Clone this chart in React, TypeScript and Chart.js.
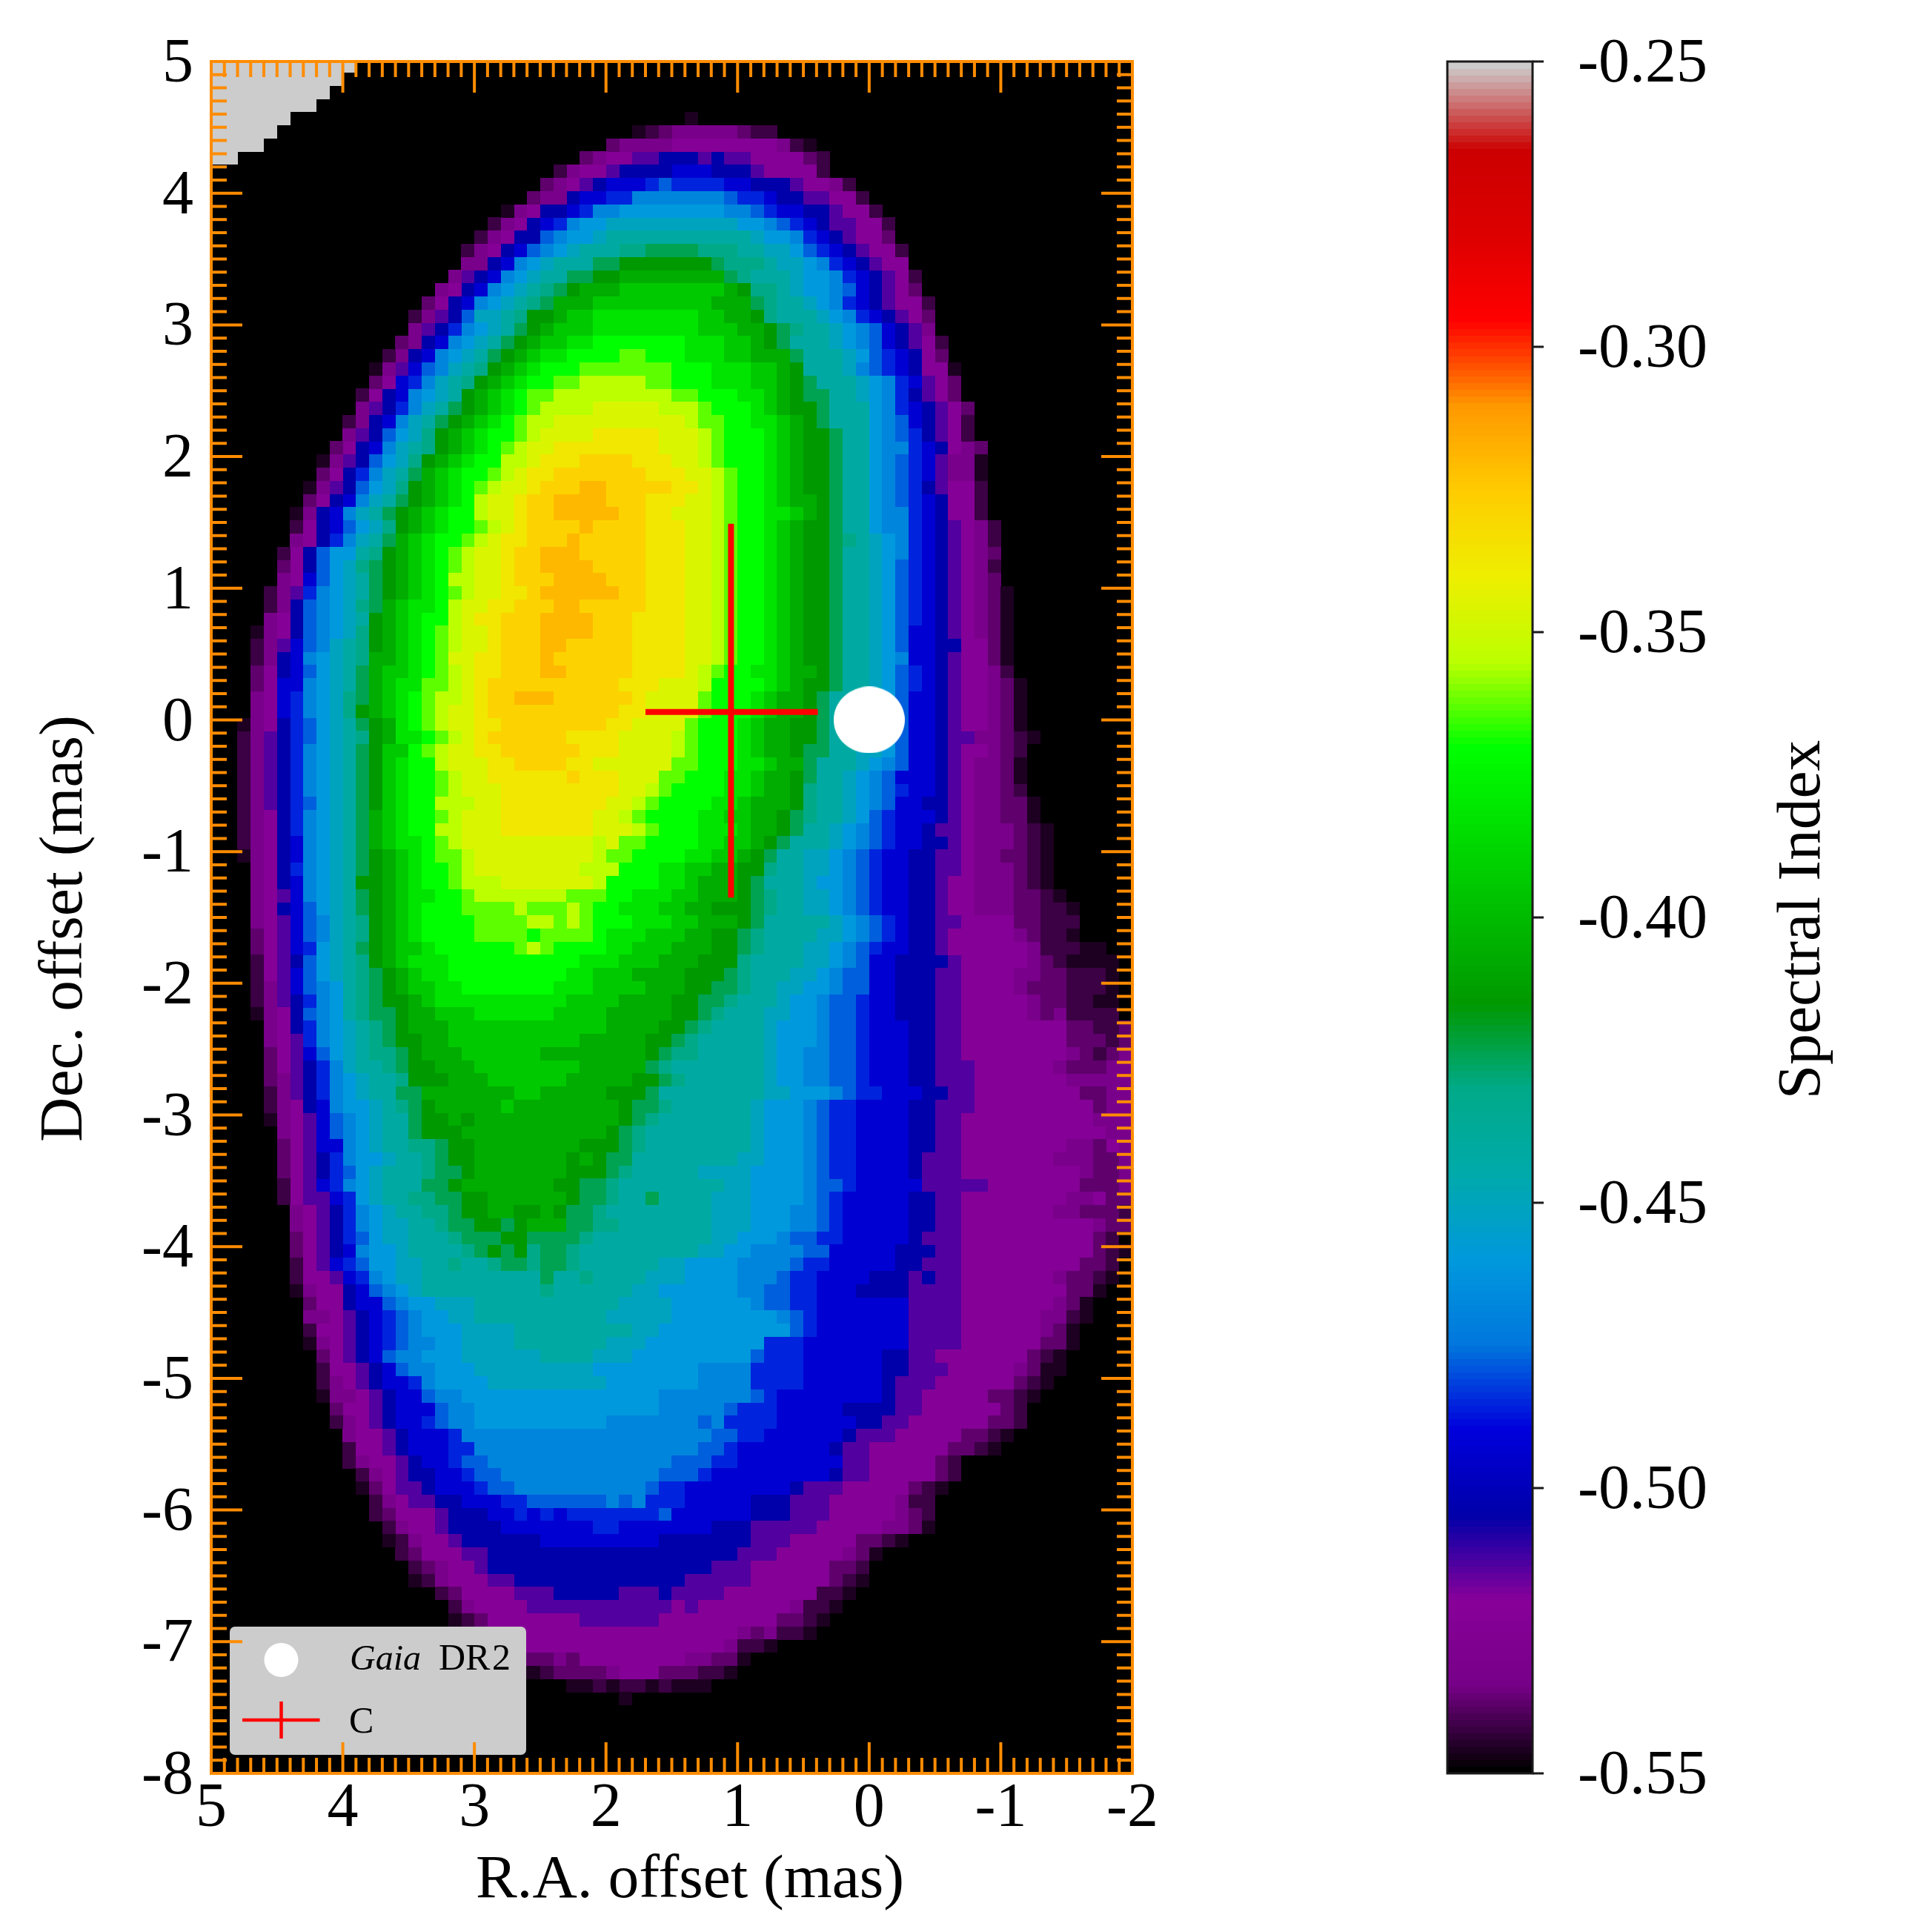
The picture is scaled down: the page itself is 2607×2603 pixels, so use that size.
import React, { useEffect, useRef } from "react";
import { Chart, registerables } from "chart.js";

Chart.register(...registerables);

// Each row of the spectral-index map: [first column, level codes, ...]. Columns and rows are 0.1 mas wide.
const MAP_ROWS: (number | string)[][] = [
  [0, "zzzzzzzzzzz"],
  [0, "zzzzzzzzzz"],
  [0, "zzzzzzzzz"],
  [0, "zzzzzzzz"],
  [0, "zzzzzz", 36, "1"],
  [0, "zzzzz", 32, "12344444322"],
  [0, "zzzz", 30, "3444455555555421"],
  [0, "zz", 28, "3455667776766555532"],
  [26, "245567777888777655552"],
  [25, "345678889a99998877765542"],
  [24, "34478899bbbbbbba9987766552"],
  [22, "1457789bbccccccccbba988776552"],
  [21, "245789bccdddddddddd" + "ccba98766552"],
  [20, "24577abccdeeeeeeeeeeedccb9876553"],
  [19, "24578abcdeeeffggggfffeeddca9876552"],
  [19, "4478bcdeeegghhhhhhhgfffeddcb987655"],
  [18, "4678bcdeegghhiiiiiiiigfeeedccb987652"],
  [17, "4578bcdefghiii" + "jjjjjjjj" + "ihffedccba87653"],
  [16, "3578bcdefgiii" + "jjjjjjjjj" + "iii" + "gfeedcb9876552"],
  [15, "2467addefhhijj" + "kkkkkkkk" + "jjiihfeeedcb987653"],
  [15, "4679bcdeghijjj" + "kkkkkkkk" + "jjj" + "iih" + "gfeedcba8764"],
  [14, "3478bcdeghijjkk" + "lllllll" + "kkkjjihg" + "eeedcba87652"],
  [13, "2478bcdeghijkkll" + "ll" + "mm" + "lll" + "kkk" + "jj" + "iii" + "g" + "eee" + "dca98753"],
  [12, "1468abdefhijklll" + "mmmmmmm" + "lll" + "kkk" + "jj" + "i" + "h" + "eee" + "dba987551"],
  [12, "3589bdefhijkllm" + "mnnnnnm" + "m" + "lll" + "kkk" + "jj" + "ihg" + "eee" + "dcb98653"],
  [11, "2578bcdehijklmmnn" + "nnnnnn" + "nmm" + "lll" + "kk" + "jihgg" + "ee" + "dcb97653"],
  [11, "4679bdeghijklmnn" + "nnooooonn" + "nm" + "lll" + "kjihhg" + "eee" + "cb987653"],
  [10, "2478bdeghijklmnno" + "ooooooooo" + "n" + "mm" + "ll" + "kkjihg" + "eee" + "cba87652"],
  [10, "467acdfhijkllmnoo" + "oopppppooo" + "nm" + "lll" + "kjihhg" + "ee" + "cba97652"],
  [9, "3578bdefhijklmnoop" + "ppppp" + "ppooo" + "nm" + "lll" + "kjihhg" + "ee" + "cbb987543"],
  [8, "1467acdfhijkllnnopp" + "pqqqqp" + "ppoo" + "nm" + "lll" + "kjihhg" + "ee" + "cba986441"],
  [8, "3579bdegijkllmnoppq" + "qq" + "qqqq" + "pppo" + "onm" + "ll" + "kjihhg" + "ee" + "cba986441"],
  [7, "1467acdfhijklmnoopqq" + "qrr" + "qqqqq" + "pp" + "onm" + "ll" + "kjihhg" + "ee" + "cba976552"],
  [7, "3578bdeghijklnoopqq" + "rrrr" + "qqq" + "ppp" + "oo" + "nm" + "ll" + "kjiihg" + "ee" + "cba987552"],
  [6, "1478bdeghijkllnoopqq" + "rrrrr" + "qq" + "pp" + "ooo" + "nm" + "ll" + "kkjihg" + "ee" + "cbb987552"],
  [6, "2578acdfhijkllmnopqqqqrqqqq" + "pppoonmllkjihhg" + "eecbb9876542"],
  [6, "4579bdegijkllmnoppqqqrqqqqq" + "pppoonmllkjihhg" + "fedcb9876542"],
  [5, "257accefhijklmnoopqqrrrqqqqq" + "pppoonmllkjihhg" + "eedcb9876543"],
  [5, "357acdfghijklmnoopqqrrrrqqqq" + "pppoonmllkjihhg" + "eedca9876542"],
  [5, "458acdeghijklnnoopqqqrrrrqqq" + "pppoonmllkjihhg" + "eedca9876543"],
  [4, "2469bcdeghijklmnooppqrrrrrrqq" + "pppoonmllkjihhg" + "eedca98765431"],
  [4, "247abcdfgijkklnooppqqqrrqqqqq" + "pppoonmllkjihhg" + "eedca98765431"],
  [4, "457abcdehijkllnoppqqqrrrrqqqp" + "pppoonmllkjihhg" + "eedca98765431"],
  [3, "1457abcdfhijklmnoopqqqrrrrqqqp" + "pppoonmllkjihhg" + "eedca88765431"],
  [3, "2468abdefhijklmnoopqqqrrqqqqqp" + "pppoonmllkjihhg" + "eedca88775531"],
  [3, "2478bcdefiijklmooppqqqrqqqqqqp" + "pppoonmllkjihhg" + "eedcb88765531"],
  [3, "3578acdegijjklmnoppqqqrrqqqqqp" + "ppponmllkkjiihg" + "eedca98765542"],
  [3, "3588bcdegijkkmmnopqqqqqqqqq" + "q" + "ppp" + "ooo" + "n" + "llll" + "kjihhg" + "eedca987655431"],
  [3, "4589bcdfgijklmnnopqq" + "rrr" + "qqqqqq" + "p" + "oooo" + "m" + "lll" + "kjiihg" + "eeddca887655431"],
  [3, "4589bcdfhijklmnoop" + "qqqqqqqqqq" + "pp" + "oooo" + "m" + "lll" + "kjiihg" + "eeddca887655431"],
  [2, "14579acdeghiklmnoopp" + "qqqqqqqq" + "pp" + "oooo" + "m" + "lll" + "kjiihhg" + "eeddca887655431"],
  [2, "24679acdefhikklmnop" + "qqqqqq" + "pppp" + "oooo" + "nm" + "lll" + "kjiihhg" + "eeddca8876644321"],
  [2, "24679bcdeghjjlmnoopp" + "qqqqqq" + "ppp" + "oooo" + "nm" + "lll" + "kjiihgg" + "eeddca887655432"],
  [2, "24679bcdeghjkllnooo" + "pp" + "qqqq" + "pp" + "oooooo" + "mm" + "lll" + "kkjiig" + "eee" + "dcba887654431"],
  [2, "24679bcdeghjkllmnoo" + "pppppp" + "q" + "ppp" + "ooo" + "mm" + "lll" + "kkjiihg" + "ee" + "dcba8887654431"],
  [2, "24679bcdeghjkllmnooo" + "ppppppppp" + "oo" + "nm" + "llll" + "kkjiihf" + "ee" + "dcba9887654432"],
  [2, "24679acdeghjkllnnnoo" + "pppppppp" + "oo" + "nm" + "llll" + "kkjiiihf" + "ee" + "dcba88776544331"],
  [2, "24579bcdegijkllmnooo" + "ppppppp" + "oo" + "nm" + "llll" + "kkjjiihgf" + "ee" + "dca988876544331"],
  [2, "24579bcdegijkllnnoo" + "o" + "ppppppp" + "ooo" + "nm" + "lll" + "kkk" + "jiihg" + "ee" + "dcba9887665444321"],
  [2, "24578bcdegijkklmno" + "ooooooooo" + "no" + "mm" + "llll" + "kkjjihg" + "eee" + "dcba9887765444321"],
  [2, "14578bcdeghijklmmno" + "oooooooo" + "nmm" + "llll" + "kkjjihg" + "ee" + "ddcba98877665443321"],
  [3, "4579bcdeghijkllmno" + "ooooooo" + "nnn" + "lll" + "kkjjiihhf" + "ee" + "ddcba98877665444321"],
  [3, "4578bcdehhijkllmnnn" + "ooooooo" + "n" + "llll" + "kkjiiihg" + "eee" + "dccba98877655444321"],
  [3, "4568bcdeghijkkllmnn" + "nnnnn" + "mmm" + "ll" + "kkk" + "jj" + "iii" + "hgf" + "ee" + "ddcba988776554443321"],
  [3, "4578acdeghijklllmm" + "mmnmmmnm" + "ll" + "kkk" + "jj" + "ii" + "hhh" + "gf" + "ee" + "ddcba9887765544433221"],
  [3, "4568abdefhijkllll" + "mmmm" + "nnmnm" + "lll" + "kkk" + "jj" + "iii" + "hg" + "eeeee" + "dcba98776655553" + "3222"],
  [3, "3568abdefhijkllllmmmmlmmmmlkkkjjjiihhgfeeeeddcba98776" + "55555" + "43221"],
  [3, "35689cdeghijjk" + "llllll" + "mnm" + "llll" + "kk" + "jjj" + "iii" + "hhgfeeeddcba988776" + "555555" + "422211"],
  [3, "2567acdefhijkkk" + "llllllllll" + "kkkjjjiiihhhf" + "eeee" + "ddcba88" + "7777" + "6" + "55555" + "432" + "1111"],
  [3, "2568acdefghijkk" + "lllllllll" + "kk" + "jjj" + "iiii" + "hhh" + "g" + "f" + "eee" + "dd" + "c" + "b" + "aa" + "88" + "777" + "66" + "5555" + "44" + "33" + "222" + "1"],
  [3, "2468abcefghijjkk" + "lllllll" + "kkk" + "jjjj" + "iii" + "hhggfeeddccbaa88777665555" + "4333" + "2221"],
  [3, "24679bcefghhij" + "kkkkkkkkkk" + "jjjj" + "iiii" + "hhggf" + "eee" + "dccbaa98877766555554332211"],
  [3, "1457abcefgghii" + "jjj" + "kkkkkk" + "jjjj" + "iiiii" + "hhgf" + "eee" + "ddccbaa98877766555554342222"],
  [4, "4579bcdefgh" + "iii" + "jjjjjjjjjjjj" + "iiii" + "hhgf" + "eeee" + "dcccbaa9" + "888" + "77" + "66" + "55555555" + "33223"],
  [4, "4569bcdefghhii" + "jjjjjjjjjj" + "iiiii" + "hhgf" + "eeeee" + "dcccbaa9" + "888" + "77" + "66" + "55555555" + "33323"],
  [4, "3568acdeffgh" + "iii" + "jjjjjj" + "iiiiiiii" + "hgff" + "eeeee" + "dccbbaa9" + "888" + "77" + "66" + "55555555" + "43234"],
  [4, "35679bdeefghh" + "iii" + "jjjjjjjj" + "iiiii" + "gf" + "eeeeeee" + "dccbbaa9" + "888" + "77" + "666" + "555555" + "4" + "333" + "44"],
  [4, "34679bcdeef" + "hhh" + "iii" + "jjjjjj" + "iiiii" + "hhgf" + "eeeeee" + "dccbbaa9" + "888" + "77" + "666" + "5555555" + "44444"],
  [4, "24679bcdeegg" + "iiiiiii" + "jj" + "iiiii" + "hhhg" + "eeeeeeee" + "ddcccba99" + "888" + "77" + "66" + "55555555" + "3344"],
  [4, "24578bccdefgh" + "iiiii" + "j" + "iiiiiiii" + "hggf" + "eeeeee" + "dcccba99" + "8888" + "77" + "666" + "555555555" + "344"],
  [4, "14568abcdeeghhih" + "iiiiiiiiiii" + "hgf" + "eeeeeee" + "dcccba99" + "8888" + "77" + "66" + "5555555555" + "444"],
  [5, "4568abcdeeg" + "hhh" + "iiiiiiiiiii" + "hgf" + "eeeeeeee" + "dcccba99" + "8888" + "77" + "66" + "55555555555" + "44"],
  [5, "35688bcdeeffghh" + "iiiiiiii" + "hhh" + "gf" + "eeeeeeee" + "dcccba99" + "8888" + "77" + "66" + "55555555" + "44354"],
  [5, "35679bccdeefghh" + "iiiiiii" + "hihgg" + "eeeeeeee" + "ddcccba99" + "8888" + "7666" + "5555555" + "444334"],
  [5, "35679acdeeefggh" + "iiiiiii" + "hhhgf" + "eeeee" + "dddd" + "cccc" + "ba99" + "8888" + "7666" + "555555555" + "4334"],
  [5, "25689bcdeeeggh" + "iiiiiii" + "hhggf" + "eeeeeeee" + "dd" + "cccc" + "baa9" + "88888" + "66666" + "5555555" + "3334"],
  [5, "256689cdeeffgghh" + "iiiiii" + "hggfeeg" + "eeee" + "ddd" + "cccc" + "ba9" + "88888" + "77" + "66" + "55555555" + "44533"],
  [6, "45679bcdeeffghhiihhihggf" + "eeeeeeee" + "ddd" + "ccc" + "bba9" + "88888" + "77" + "66" + "5555555" + "44" + "333" + "2"],
  [6, "45679bcddeefgghhgh" + "iii" + "ggff" + "eeeeeee" + "ddd" + "ccc" + "bba9" + "88888" + "77" + "66" + "5555555555" + "433"],
  [6, "35679acdd" + "eee" + "f" + "ggg" + "hh" + "gggg" + "f" + "eeeeeeeee" + "dd" + "ccc" + "baa99" + "88888" + "7666" + "5555555555" + "32"],
  [6, "35678bccd" + "eeee" + "fghghfggf" + "eeeeeeeee" + "ddcc" + "bbbb" + "aa" + "88888" + "777" + "66" + "5555555555" + "321"],
  [6, "25689accdd" + "eefeefggfggf" + "eeeeee" + "dd" + "cccc" + "bbbb" + "a99" + "88888" + "77" + "666" + "555555555" + "332"],
  [6, "255689bcdd" + "eeeeeeeee" + "geef" + "eeee" + "ddd" + "cccc" + "bbb" + "a99" + "8888" + "777" + "6766" + "5555555" + "43321"],
  [6, "145578abcd" + "eeeeeeeee" + "f" + "eeeeee" + "dd" + "cccccc" + "bbaa99" + "888" + "7777" + "6666" + "55555555" + "331"],
  [7, "355788abcc" + "ddd" + "eeeeeeeeeee" + "dddd" + "cccccc" + "baa99" + "8888888" + "6666" + "5555555" + "431"],
  [7, "4456789abccdd" + "eeeeeeeeee" + "ddddd" + "cccccccc" + "ba9" + "8888888" + "6666" + "555555" + "4421"],
  [7, "2556789abcccdddd" + "eeeeeeeee" + "dd" + "cccccccccc" + "a9" + "8888888" + "6666" + "555555" + "431"],
  [7, "1456789abbccdddd" + "eeeeeee" + "ddd" + "ccccccccc" + "999" + "88888888" + "6666" + "555555" + "331"],
  [8, "35678abbccc" + "dddddd" + "eeee" + "ddd" + "ccccccccc" + "a999" + "888888" + "77" + "66" + "5555555" + "321"],
  [8, "255678abb" + "ccc" + "ddddddddd" + "cccccccc" + "bbbb" + "9999" + "888888" + "77" + "666" + "55555" + "4311"],
  [8, "24567889b" + "cccc" + "ddddddddd" + "ccccccc" + "bbbb" + "9999" + "888888" + "7" + "666" + "555555" + "321"],
  [8, "14456788abb" + "ccccccccccccccc" + "bbbbbbb" + "a9" + "88888888" + "766" + "55555" + "3321"],
  [9, "35567888abb" + "cccccccccccccc" + "bbbbb" + "a999" + "88888" + "7777" + "66" + "555555" + "32"],
  [9, "24567889abb" + "cccccccccc" + "bbbbbbb" + "ab" + "9999" + "888888" + "77" + "66" + "555555" + "332"],
  [10, "455678889" + "bbbbbbbbbbbbbbbbbbb" + "aa99" + "888888" + "7" + "666" + "55555" + "3321"],
  [10, "2556788899" + "bbbbbbbbbbbbbbbbb" + "aa9" + "8888888" + "766" + "555555" + "3321"],
  [10, "245567889aa" + "bbbbbbbbbbbbbb" + "aaa" + "99" + "88888888" + "66" + "55555" + "32"],
  [11, "245677889aa" + "bbbbbbbbbbbb" + "aaa" + "9" + "888888888" + "766" + "55555" + "32"],
  [11, "1356678889aa" + "bbbbbbbbbb" + "a99" + "88888888" + "7" + "666" + "55555" + "321"],
  [12, "245667788899" + "aaaaaa" + "bab" + "999" + "88888" + "777" + "666" + "55555" + "422"],
  [12, "23555" + "6" + "777" + "88" + "9898" + "9999999" + "a" + "888888" + "777" + "666" + "55555" + "432"],
  [13, "24556" + "7777" + "8888888" + "99" + "8888888" + "777" + "66666" + "55555" + "4431"],
  [13, "124556" + "777777" + "888888888" + "7777777" + "666" + "55555" + "3321"],
  [14, "23555" + "66" + "7777777777777777777" + "666" + "55555" + "431"],
  [15, "234556" + "77777777777777777" + "666" + "555555" + "332"],
  [15, "124555" + "66" + "7777777777777" + "66666" + "555555" + "321"],
  [17, "23" + "5555" + "666" + "77777" + "666" + "7" + "6666" + "5555555" + "221"],
  [18, "24" + "5555" + "66666666666" + "56" + "5555555" + "4221"],
  [18, "123" + "5555555" + "666666" + "555555555" + "3321"],
  [19, "23" + "5555555555555555555" + "434221"],
  [21, "34" + "5555555555555555" + "4221"],
  [22, "233343" + "55555555" + "44331"],
  [23, "11233334" + "555" + "333221"],
  [27, "11212212111"],
  [31, "1"],
];

// Spectral index that each level code in MAP_ROWS stands for.
const LEVEL_CODES = "0123456789abcdefghijklmnopqrz";
const LEVEL_VALUES = [
  -0.55, -0.5464, -0.5425, -0.538, -0.5335, -0.523, -0.514, -0.505, -0.493, -0.4855,
  -0.478, -0.469, -0.46, -0.451, -0.442, -0.43, -0.424, -0.415, -0.406, -0.394,
  -0.382, -0.37, -0.3625, -0.355, -0.346, -0.337, -0.328, -0.319, -0.25,
];

const INDEX_MIN = -0.55;
const INDEX_MAX = -0.25;
const X_TICKS = [5, 4, 3, 2, 1, 0, -1, -2];
const Y_TICKS = [5, 4, 3, 2, 1, 0, -1, -2, -3, -4, -5, -6, -7, -8];
const BAR_TICKS = [-0.25, -0.3, -0.35, -0.4, -0.45, -0.5, -0.55];

const GAIA_POINT = { x: 0, y: 0 };
const C_CROSS_RA = [1.7, 1.05, 0.39];
const C_CROSS_DEC = [1.49, 0.06, -1.35];

// nipy_spectral colour map anchors: [position, r, g, b]
const COLOR_STOPS = [
  [0, 0, 0, 0], [0.05, 0.4667, 0, 0.5333], [0.1, 0.5333, 0, 0.6], [0.15, 0, 0, 0.6667],
  [0.2, 0, 0, 0.8667], [0.25, 0, 0.4667, 0.8667], [0.3, 0, 0.6, 0.8667], [0.35, 0, 0.6667, 0.6667],
  [0.4, 0, 0.6667, 0.5333], [0.45, 0, 0.6, 0], [0.5, 0, 0.7333, 0], [0.55, 0, 0.8667, 0],
  [0.6, 0, 1, 0], [0.65, 0.7333, 1, 0], [0.7, 0.9333, 0.9333, 0], [0.75, 1, 0.8, 0],
  [0.8, 1, 0.6, 0], [0.85, 1, 0, 0], [0.9, 0.8667, 0, 0], [0.95, 0.8, 0, 0], [1, 0.8, 0.8, 0.8],
];

const SERIF = "'Liberation Serif', 'Times New Roman', serif";
const ORANGE = "#ff8c00";
const FONT_SIZE = 84;
const TITLE_SIZE = 83.5;
const BAR_CANVAS_LIFT = 20;

function colorFor(value: number): string {
  const f = Math.min(1, Math.max(0, (value - INDEX_MIN) / (INDEX_MAX - INDEX_MIN)));
  for (let i = 1; i < COLOR_STOPS.length; i++) {
    const a = COLOR_STOPS[i - 1];
    const b = COLOR_STOPS[i];
    if (f <= b[0]) {
      const t = (f - a[0]) / (b[0] - a[0]);
      const c = [1, 2, 3].map((k) => Math.round(255 * (a[k] + (b[k] - a[k]) * t)));
      return `rgb(${c[0]},${c[1]},${c[2]})`;
    }
  }
  return "rgb(204,204,204)";
}

function cellStyle(w: number, h: number, color: string): HTMLCanvasElement {
  const c = document.createElement("canvas");
  c.width = w;
  c.height = h;
  const g = c.getContext("2d")!;
  g.fillStyle = color;
  g.fillRect(0, 0, w, h);
  return c;
}

function ellipseStyle(rx: number, ry: number, color: string): HTMLCanvasElement {
  const c = document.createElement("canvas");
  c.width = rx * 2;
  c.height = ry * 2;
  const g = c.getContext("2d")!;
  g.fillStyle = color;
  g.beginPath();
  g.ellipse(rx, ry, rx, ry, 0, 0, Math.PI * 2);
  g.fill();
  return c;
}

function buildHeatDatasets() {
  const grid: number[][] = [];
  for (let r = 0; r <= 130; r++) {
    const row = new Array(70).fill(0);
    const spec = MAP_ROWS[r] || [];
    for (let k = 0; k + 1 < spec.length; k += 2) {
      const start = spec[k] as number;
      const text = spec[k + 1] as string;
      for (let i = 0; i < text.length && start + i < 70; i++) {
        row[start + i] = LEVEL_CODES.indexOf(text[i]);
      }
    }
    grid.push(row);
  }
  return LEVEL_CODES.split("").map((code, level) => {
    const data: { x: number; y: number }[] = [];
    grid.forEach((row, r) =>
      row.forEach((l, c) => {
        if (l === level) data.push({ x: 5 - (c + 0.5) * 0.1, y: 4.966 - 0.1 * r });
      })
    );
    return {
      type: "scatter" as const,
      label: `index ${LEVEL_VALUES[level]}`,
      data,
      pointStyle: cellStyle(18, 18, colorFor(LEVEL_VALUES[level])),
      pointRadius: 10,
      pointHoverRadius: 10,
      showLine: false,
      clip: 0,
      order: level === 0 ? 100 : 50,
    };
  });
}

// The reference sets its vertical-axis numbers a little below the tick centre.
function nudgeYLabels(chart: any, dy: number) {
  if (chart.$nudged) return;
  chart.$nudged = true;
  chart.scales.y.getLabelItems(chart.chartArea).forEach((item: any) => {
    const t = item.options.translation;
    item.options.translation = [t[0], t[1] + dy];
  });
}

const mainOverlay = {
  id: "mainOverlay",
  beforeDraw(chart: any) {
    nudgeYLabels(chart, 5);
  },
  beforeDatasetsDraw(chart: any) {
    const { ctx, chartArea: a } = chart;
    ctx.save();
    ctx.fillStyle = "#000";
    ctx.fillRect(a.left, a.top, a.right - a.left, a.bottom - a.top);
    ctx.restore();
  },
  afterDatasetsDraw(chart: any) {
    const { ctx, chartArea: a, scales } = chart;
    ctx.save();
    // legend
    ctx.fillStyle = "#cccccc";
    ctx.beginPath();
    ctx.roundRect(310, 2195, 400, 173, 7);
    ctx.fill();
    ctx.fillStyle = "#fff";
    ctx.beginPath();
    ctx.ellipse(379.5, 2240, 23, 23, 0, 0, Math.PI * 2);
    ctx.fill();
    ctx.strokeStyle = "#ff0000";
    ctx.lineWidth = 4.5;
    ctx.beginPath();
    ctx.moveTo(327, 2321);
    ctx.lineTo(431.5, 2321);
    ctx.moveTo(379.5, 2296);
    ctx.lineTo(379.5, 2346);
    ctx.stroke();
    ctx.fillStyle = "#000";
    ctx.textAlign = "left";
    ctx.textBaseline = "alphabetic";
    ctx.font = `italic 48px ${SERIF}`;
    ctx.fillText("Gaia", 472, 2253);
    ctx.font = `50px ${SERIF}`;
    ctx.fillText("DR", 592, 2253);
    ctx.fillText("2", 664, 2253);
    ctx.fillText("C", 471, 2338);

    // inward ticks on all four sides
    ctx.strokeStyle = ORANGE;
    ctx.lineWidth = 4;
    ctx.beginPath();
    for (let i = 0; i <= 70; i++) {
      const v = -2 + i / 10;
      const px = scales.x.getPixelForValue(v);
      const len = i % 10 === 0 ? 42 : 21;
      ctx.moveTo(px, a.top);
      ctx.lineTo(px, a.top + len);
      ctx.moveTo(px, a.bottom);
      ctx.lineTo(px, a.bottom - len);
    }
    for (let i = 0; i <= 130; i++) {
      const v = -8 + i / 10;
      const py = scales.y.getPixelForValue(v);
      const len = i % 10 === 0 ? 42 : 21;
      ctx.moveTo(a.left, py);
      ctx.lineTo(a.left + len, py);
      ctx.moveTo(a.right, py);
      ctx.lineTo(a.right - len, py);
    }
    ctx.stroke();
    ctx.strokeRect(a.left, a.top, a.right - a.left, a.bottom - a.top);

    // axis titles
    ctx.fillStyle = "#000";
    ctx.font = `${TITLE_SIZE}px ${SERIF}`;
    ctx.textAlign = "center";
    ctx.fillText("R.A. offset (mas)", 931, 2560);
    ctx.translate(110, 1253);
    ctx.rotate(-Math.PI / 2);
    ctx.fillText("Dec. offset (mas)", 0, 0);
    ctx.restore();
  },
};

const barOverlay = {
  id: "barOverlay",
  beforeDraw(chart: any) {
    nudgeYLabels(chart, 5);
  },
  afterDatasetsDraw(chart: any) {
    const { ctx, chartArea: a, scales } = chart;
    ctx.save();
    ctx.strokeStyle = "#1a1a1a";
    ctx.lineWidth = 3;
    ctx.strokeRect(a.left, a.top, a.right - a.left, a.bottom - a.top);
    ctx.lineWidth = 3;
    ctx.beginPath();
    BAR_TICKS.forEach((v) => {
      const py = scales.y.getPixelForValue(v);
      ctx.moveTo(a.right, py);
      ctx.lineTo(a.right + 15, py);
    });
    ctx.stroke();
    ctx.fillStyle = "#000";
    ctx.font = `${TITLE_SIZE}px ${SERIF}`;
    ctx.textAlign = "center";
    ctx.textBaseline = "alphabetic";
    ctx.translate(655, 1241 + BAR_CANVAS_LIFT);
    ctx.rotate(-Math.PI / 2);
    ctx.fillText("Spectral Index", 0, 0);
    ctx.restore();
  },
};

export default function App() {
  const mainRef = useRef<HTMLCanvasElement>(null);
  const barRef = useRef<HTMLCanvasElement>(null);

  useEffect(() => {
    const tickFont = { family: SERIF, size: FONT_SIZE, lineHeight: 1 };
    const main = new Chart(mainRef.current!, {
      type: "scatter",
      data: {
        datasets: [
          {
            label: "C",
            data: [
              { x: C_CROSS_RA[0], y: C_CROSS_DEC[1] },
              { x: C_CROSS_RA[2], y: C_CROSS_DEC[1] },
            ],
            showLine: true,
            borderColor: "#ff0000",
            borderWidth: 8,
            pointRadius: 0,
            clip: 0,
            order: 0,
          },
          {
            label: "C (Dec.)",
            data: [
              { x: C_CROSS_RA[1], y: C_CROSS_DEC[0] },
              { x: C_CROSS_RA[1], y: C_CROSS_DEC[2] },
            ],
            showLine: true,
            borderColor: "#ff0000",
            borderWidth: 8,
            pointRadius: 0,
            clip: 0,
            order: 0,
          },
          {
            label: "Gaia DR2",
            data: [GAIA_POINT],
            pointStyle: ellipseStyle(48, 45, "#ffffff"),
            pointRadius: 10,
            showLine: false,
            clip: 0,
            order: 1,
          },
          ...buildHeatDatasets(),
        ] as any,
      },
      options: {
        responsive: false,
        animation: false,
        events: [],
        layout: { autoPadding: false, padding: { left: 0, top: 83, right: 272, bottom: 90 } },
        plugins: { legend: { display: false }, tooltip: { enabled: false } },
        scales: {
          x: {
            type: "linear",
            reverse: true,
            min: -2,
            max: 5,
            grid: { display: false, drawTicks: false },
            border: { display: false },
            afterFit: (s: any) => {
              s.height = 120;
            },
            afterBuildTicks: (s: any) => {
              s.ticks = X_TICKS.map((value) => ({ value }));
            },
            ticks: {
              autoSkip: false,
              maxRotation: 0,
              color: "#000",
              padding: 7,
              font: tickFont,
              callback: (v: any) => String(v),
            },
          },
          y: {
            type: "linear",
            min: -8,
            max: 5,
            grid: { display: false, drawTicks: false },
            border: { display: false },
            afterFit: (s: any) => {
              s.width = 285;
            },
            afterBuildTicks: (s: any) => {
              s.ticks = Y_TICKS.map((value) => ({ value }));
            },
            ticks: {
              autoSkip: false,
              color: "#000",
              padding: 24,
              font: tickFont,
              callback: (v: any) => String(v),
            },
          },
        },
      },
      plugins: [mainOverlay],
    } as any);

    const levels = Array.from({ length: 256 }, (_, i) => i);
    const bar = new Chart(barRef.current!, {
      type: "scatter",
      data: {
        datasets: [
          {
            label: "Spectral Index",
            data: levels.map((i) => ({
              x: 0.5,
              y: INDEX_MIN + ((i + 0.5) / 256) * (INDEX_MAX - INDEX_MIN),
            })),
            pointStyle: (ctx: any) =>
              cellStyle(116, 10, colorFor(INDEX_MIN + (ctx.dataIndex / 255) * (INDEX_MAX - INDEX_MIN))),
            pointRadius: 10,
            showLine: false,
            clip: 0,
          },
        ] as any,
      },
      options: {
        responsive: false,
        animation: false,
        events: [],
        layout: { autoPadding: false, padding: { left: 153, top: 83, right: 239, bottom: 90 } },
        plugins: { legend: { display: false }, tooltip: { enabled: false } },
        scales: {
          x: {
            type: "linear",
            min: 0,
            max: 1,
            grid: { display: false, drawTicks: false },
            border: { display: false },
            ticks: { display: false },
            afterFit: (s: any) => {
              s.height = 120;
            },
          },
          y: {
            type: "linear",
            position: "right",
            min: INDEX_MIN,
            max: INDEX_MAX,
            grid: { display: false, drawTicks: false },
            border: { display: false },
            afterFit: (s: any) => {
              s.width = 300;
            },
            afterBuildTicks: (s: any) => {
              s.ticks = BAR_TICKS.map((value) => ({ value }));
            },
            ticks: {
              autoSkip: false,
              color: "#000",
              padding: 61,
              font: tickFont,
              callback: (v: any) => Number(v).toFixed(2),
            },
          },
        },
      },
      plugins: [barOverlay],
    } as any);

    return () => {
      main.destroy();
      bar.destroy();
    };
  }, []);

  return (
    <div style={{ position: "absolute", left: 0, top: 0, width: 2607, height: 2603, overflow: "hidden", background: "#fff" }}>
      <canvas ref={mainRef} width={1800} height={2603} style={{ position: "absolute", left: 0, top: 0 }} />
      <canvas
        ref={barRef}
        width={807}
        height={2603 + BAR_CANVAS_LIFT}
        style={{ position: "absolute", left: 1800, top: -BAR_CANVAS_LIFT }}
      />
    </div>
  );
}
